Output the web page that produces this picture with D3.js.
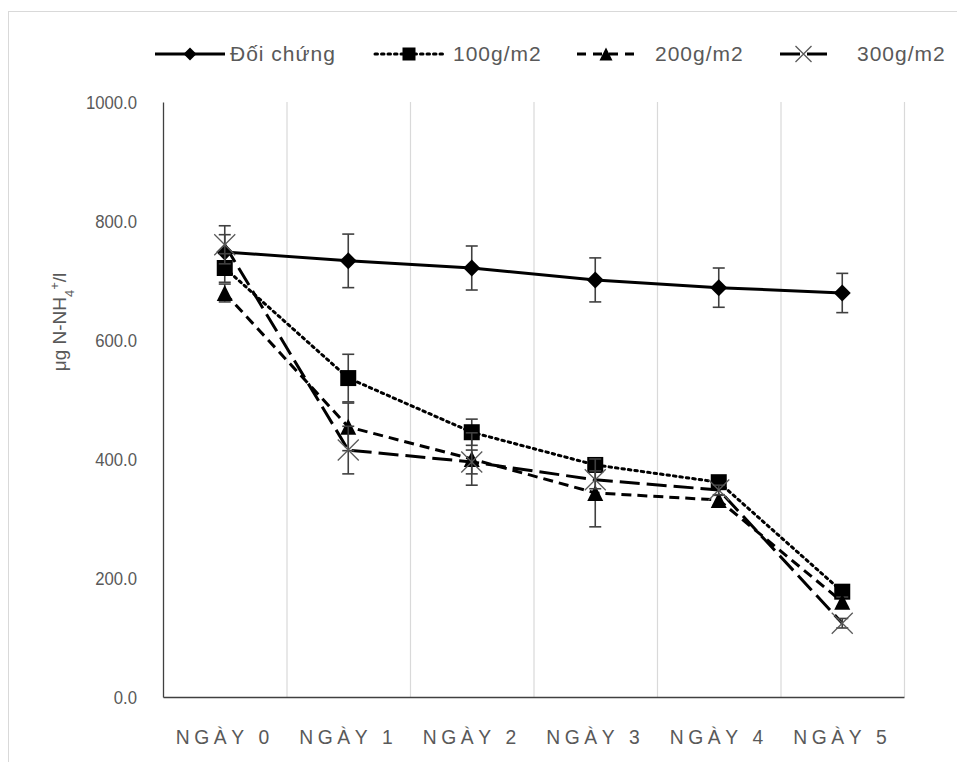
<!DOCTYPE html>
<html>
<head>
<meta charset="utf-8">
<script src="https://cdn.jsdelivr.net/npm/d3@7"></script>
<style>
  body { margin: 0; background: #fff; }
  text { font-family: "Liberation Sans", Arial, sans-serif; fill: #595959; }
</style>
</head>
<body>
<div id="chart"></div>
<script>
// chart size and plot margins
const width = 957;
const height = 762;
const margin = {left: 163, right: 53, top: 102, bottom: 65};

// data
const days = ["NGÀY 0", "NGÀY 1", "NGÀY 2", "NGÀY 3", "NGÀY 4", "NGÀY 5"];
const seriesNames = ["Đối chứng", "100g/m2", "200g/m2", "300g/m2"];
const doiChung = [748, 733, 721, 701, 688, 679];
const doiChungErr = [29, 45, 37, 37, 33, 33];
const g100 = [721, 536, 445, 390, 361, 177];
const g100Err = [24, 40, 22, 10, 8, 10];
const g200 = [679, 454, 400, 343, 331, 160];
const g200Err = [15, 40, 44, 57, 8, 8];
const g300 = [760, 415, 395, 365, 348, 124];
const g300Err = [32, 40, 20, 15, 8, 8];
const yTicks = [0, 200, 400, 600, 800, 1000];

const series = [
  {name: seriesNames[0], values: doiChung, err: doiChungErr, dash: null, marker: "diamond"},
  {name: seriesNames[1], values: g100, err: g100Err, dash: "2.5,4", marker: "square"},
  {name: seriesNames[2], values: g200, err: g200Err, dash: "10,6", marker: "triangle"},
  {name: seriesNames[3], values: g300, err: g300Err, dash: "20,7", marker: "cross"}
];

const svg = d3.select("#chart")
  .append("svg")
  .attr("width", width)
  .attr("height", height);

// light outer frame of the chart area
svg.append("rect")
  .attr("x", 8.5).attr("y", 11.5)
  .attr("width", 1000).attr("height", 1000)
  .attr("fill", "none")
  .attr("stroke", "#d9d9d9");

// scales
const xScale = d3.scaleBand()
  .domain(days)
  .range([margin.left, width - margin.right]);

const yScale = d3.scaleLinear()
  .domain([0, 1000])
  .range([height - margin.bottom, margin.top]);

const xPos = i => xScale(days[i]) + xScale.bandwidth() / 2;

// vertical gridlines between categories
svg.append("g")
  .selectAll("line")
  .data(days)
  .join("line")
    .attr("x1", d => xScale(d) + xScale.bandwidth() + 0.5)
    .attr("x2", d => xScale(d) + xScale.bandwidth() + 0.5)
    .attr("y1", yScale(1000))
    .attr("y2", yScale(0))
    .attr("stroke", "#d9d9d9")
    .attr("stroke-width", 1.2);

// y axis
const yAxis = svg.append("g")
  .attr("transform", `translate(${margin.left}, 0)`)
  .call(d3.axisLeft(yScale).tickValues(yTicks).tickFormat(d3.format(".1f")).tickSize(0).tickPadding(26));
yAxis.select(".domain").attr("stroke", "#404040").attr("stroke-width", 1.3);
yAxis.selectAll("text")
  .attr("font-size", "19px")
  .attr("x", -26 / 0.88)
  .attr("transform", "scale(0.88,1)")
  .attr("fill", "#595959");

// x axis
const xAxis = svg.append("g")
  .attr("transform", `translate(0, ${height - margin.bottom})`)
  .call(d3.axisBottom(xScale).tickSize(0).tickPadding(32));
xAxis.select(".domain").attr("stroke", "#404040").attr("stroke-width", 1.5);
xAxis.selectAll("text")
  .attr("font-size", "21px")
  .attr("transform", "scale(0.92,1)")
  .style("letter-spacing", "5px")
  .attr("fill", "#595959");

// y axis title
svg.append("text")
  .attr("transform", "translate(66, 322) rotate(-90)")
  .attr("text-anchor", "middle")
  .attr("font-size", "19px")
  .html('μg N-NH<tspan baseline-shift="sub" font-size="13px">4</tspan><tspan baseline-shift="super" font-size="13px">+</tspan>/l');

// marker drawing
function drawMarker(g, type, s) {
  if (type === "diamond") {
    g.append("path").attr("d", `M0,${-s/2}L${s/2},0L0,${s/2}L${-s/2},0Z`).attr("fill", "#000");
  } else if (type === "square") {
    g.append("rect").attr("x", -s/2).attr("y", -s/2).attr("width", s).attr("height", s).attr("fill", "#000");
  } else if (type === "triangle") {
    g.append("path").attr("d", `M0,${-s/2}L${s/2},${s/2}L${-s/2},${s/2}Z`).attr("fill", "#000");
  } else {
    g.append("path").attr("d", `M${-s/2},${-s/2}L${s/2},${s/2}M${s/2},${-s/2}L${-s/2},${s/2}`)
      .attr("stroke", "#595959").attr("stroke-width", 1.3).attr("fill", "none");
  }
}

const line = d3.line()
  .x((d, i) => xPos(i))
  .y(d => yScale(d));

// lines
series.forEach(s => {
  svg.append("path")
    .datum(s.values)
    .attr("d", line)
    .attr("fill", "none")
    .attr("stroke", "#000")
    .attr("stroke-width", 3)
    .attr("stroke-linecap", s.marker === "square" ? "round" : "butt")
    .attr("stroke-dasharray", s.dash);
});

// error bars and markers
const markerSize = {diamond: 17, square: 16, triangle: 16, cross: 21};
series.forEach(s => {
  const g = svg.append("g");
  s.values.forEach((v, i) => {
    const x = xPos(i);
    const e = s.err[i];
    g.append("line")
      .attr("x1", x).attr("x2", x)
      .attr("y1", yScale(v + e)).attr("y2", yScale(v - e))
      .attr("stroke", "#404040").attr("stroke-width", 1.6);
    [v + e, v - e].forEach(c => {
      g.append("line")
        .attr("x1", x - 6).attr("x2", x + 6)
        .attr("y1", yScale(c)).attr("y2", yScale(c))
        .attr("stroke", "#404040").attr("stroke-width", 1.6);
    });
  });
  s.values.forEach((v, i) => {
    const m = g.append("g").attr("transform", `translate(${xPos(i)}, ${yScale(v)})`);
    drawMarker(m, s.marker, markerSize[s.marker]);
  });
});

// legend: sample line from x0 to x1, label at tx
const legendItems = [
  {x0: 155, x1: 225, tx: 230, dash: null},
  {x0: 375, x1: 443, tx: 453, dash: "2.5,4"},
  {x0: 577, x1: 635, tx: 655, dash: "9,7"},
  {x0: 780, x1: 827, tx: 857, dash: "20,7"}
];
const legendY = 54;
series.forEach((s, i) => {
  const it = legendItems[i];
  const lg = svg.append("g").attr("transform", `translate(0, ${legendY})`);
  lg.append("line")
    .attr("x1", it.x0).attr("x2", it.x1)
    .attr("stroke", "#000").attr("stroke-width", 3)
    .attr("stroke-linecap", s.marker === "square" ? "round" : "butt")
    .attr("stroke-dasharray", it.dash);
  const m = lg.append("g").attr("transform", `translate(${(it.x0 + it.x1) / 2}, 0)`);
  drawMarker(m, s.marker, s.marker === "cross" ? 16 : 13);
  lg.append("text")
    .attr("x", it.tx)
    .attr("y", 0)
    .attr("dy", "0.35em")
    .attr("font-size", "21px")
    .style("letter-spacing", "1px")
    .text(s.name);
});
</script>
</body>
</html>
